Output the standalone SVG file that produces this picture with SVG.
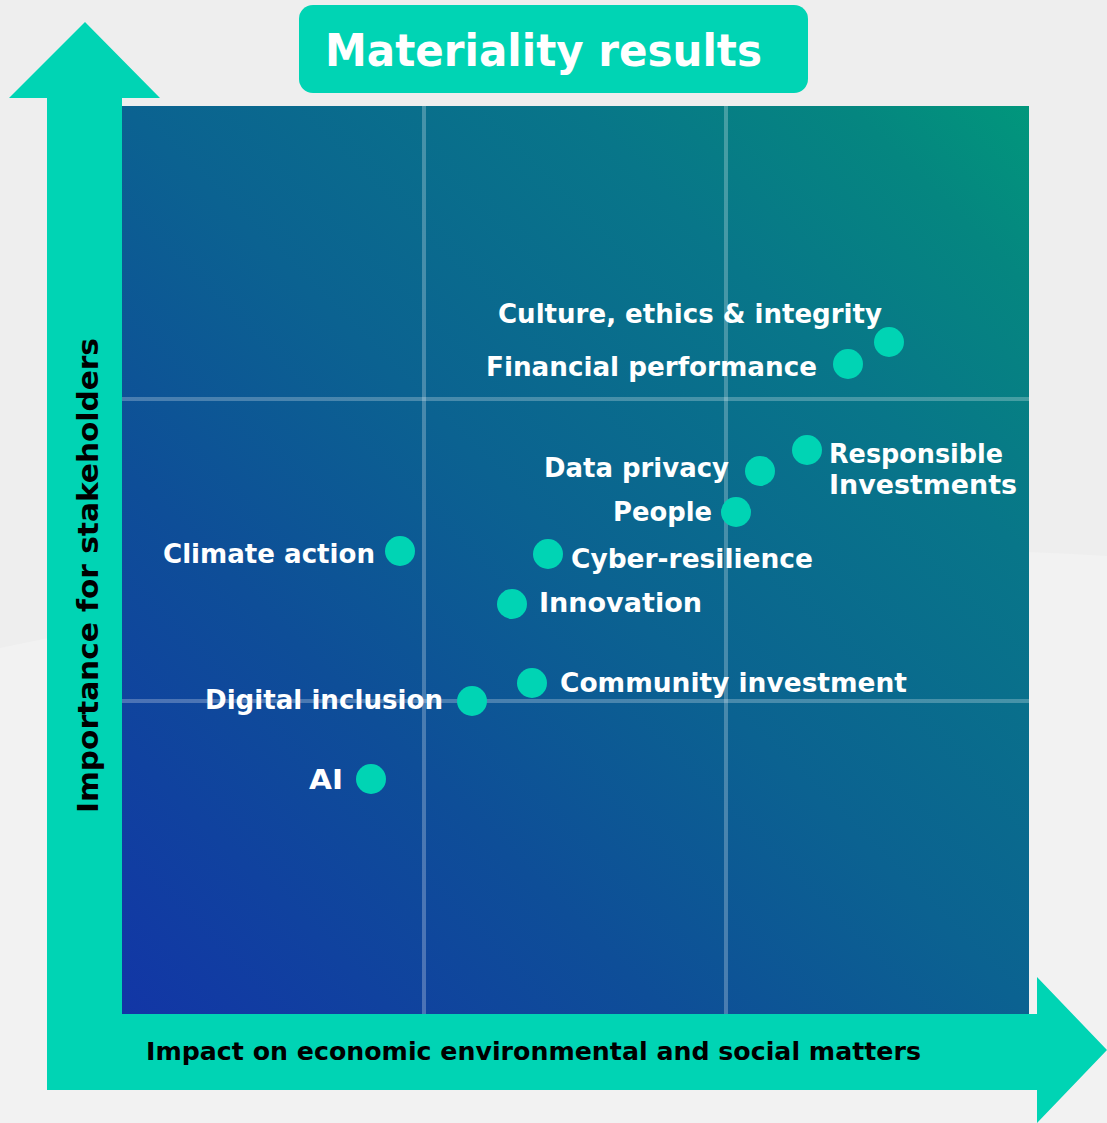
<svg xmlns="http://www.w3.org/2000/svg" width="1107" height="1123" viewBox="0 0 1107 1123">
  <defs>
    <linearGradient id="plotGrad" gradientUnits="userSpaceOnUse" x1="122" y1="1014" x2="1029" y2="106">
      <stop offset="0" stop-color="#1236a6"/>
      <stop offset="0.3" stop-color="#0e4e98"/>
      <stop offset="0.5" stop-color="#0b6291"/>
      <stop offset="0.75" stop-color="#087689"/>
      <stop offset="0.9" stop-color="#058680"/>
      <stop offset="1" stop-color="#01977c"/>
    </linearGradient>
    <style>
      .teal { fill: #00d4b4; }
      .grid { stroke: #ffffff; stroke-opacity: 0.25; stroke-width: 4; fill: none; }
      .dot { fill: #00d4b4; }
      .lbl { font-family: "DejaVu Sans", Verdana, sans-serif; font-weight: bold; font-size: 26px; fill: #ffffff; }
      .axis { font-family: "DejaVu Sans", Verdana, sans-serif; font-weight: bold; fill: #000000; }
      .title { font-family: "DejaVu Sans", Verdana, sans-serif; font-weight: bold; font-size: 44px; fill: #ffffff; }
    </style>
  </defs>

  <!-- background -->
  <rect x="0" y="0" width="1107" height="1123" fill="#eeeeee"/>
  <path d="M0,648 Q594,523 1107,556 L1107,1123 L0,1123 Z" fill="#f2f2f2"/>

  <!-- axes -->
  <g id="axis-y">
    <polygon class="teal" points="85,22 160,98 122,98 122,1090 47,1090 47,98 9,98"/>
    <text class="axis" font-size="28" transform="translate(98,813) rotate(-90)" x="0" y="0" textLength="475" lengthAdjust="spacingAndGlyphs">Importance for stakeholders</text>
  </g>
  <g id="axis-x">
    <polygon class="teal" points="47,1014 1037,1014 1037,977 1107,1050 1037,1123 1037,1090 47,1090"/>
    <text class="axis" font-size="25.5" x="146" y="1060" textLength="775" lengthAdjust="spacingAndGlyphs">Impact on economic environmental and social matters</text>
  </g>

  <!-- plot area -->
  <g id="plot">
    <rect x="122" y="106" width="907" height="908" fill="url(#plotGrad)"/>
    <line class="grid" x1="424" y1="106" x2="424" y2="1014"/>
    <line class="grid" x1="726" y1="106" x2="726" y2="1014"/>
    <line class="grid" x1="122" y1="399" x2="1029" y2="399"/>
    <line class="grid" x1="122" y1="701" x2="1029" y2="701"/>
  </g>

  <!-- title -->
  <g id="title">
    <rect class="teal" x="299" y="5" width="509" height="88" rx="14" ry="14"/>
    <text class="title" x="325" y="66" textLength="437" lengthAdjust="spacingAndGlyphs">Materiality results</text>
  </g>

  <!-- nodes -->
  <g id="node-culture">
    <circle class="dot" cx="889" cy="342" r="15"/>
    <text class="lbl" x="498" y="323" textLength="384" lengthAdjust="spacingAndGlyphs">Culture, ethics &amp; integrity</text>
  </g>
  <g id="node-financial">
    <circle class="dot" cx="848" cy="364" r="15"/>
    <text class="lbl" x="486" y="376" textLength="331" lengthAdjust="spacingAndGlyphs">Financial performance</text>
  </g>
  <g id="node-responsible">
    <circle class="dot" cx="807" cy="450" r="15"/>
    <text class="lbl" x="829" y="463" textLength="174" lengthAdjust="spacingAndGlyphs">Responsible</text>
    <text class="lbl" x="829" y="494" textLength="188" lengthAdjust="spacingAndGlyphs">Investments</text>
  </g>
  <g id="node-data-privacy">
    <circle class="dot" cx="760" cy="471" r="15"/>
    <text class="lbl" x="544" y="477" textLength="185" lengthAdjust="spacingAndGlyphs">Data privacy</text>
  </g>
  <g id="node-people">
    <circle class="dot" cx="736" cy="512" r="15"/>
    <text class="lbl" x="613" y="521" textLength="99" lengthAdjust="spacingAndGlyphs">People</text>
  </g>
  <g id="node-cyber">
    <circle class="dot" cx="548" cy="554" r="15"/>
    <text class="lbl" x="571" y="568" textLength="242" lengthAdjust="spacingAndGlyphs">Cyber-resilience</text>
  </g>
  <g id="node-innovation">
    <circle class="dot" cx="512" cy="604" r="15"/>
    <text class="lbl" x="539" y="612" textLength="163" lengthAdjust="spacingAndGlyphs">Innovation</text>
  </g>
  <g id="node-climate">
    <circle class="dot" cx="400" cy="551" r="15"/>
    <text class="lbl" x="163" y="563" textLength="212" lengthAdjust="spacingAndGlyphs">Climate action</text>
  </g>
  <g id="node-community">
    <circle class="dot" cx="532" cy="683" r="15"/>
    <text class="lbl" x="560" y="692" textLength="347" lengthAdjust="spacingAndGlyphs">Community investment</text>
  </g>
  <g id="node-digital">
    <circle class="dot" cx="472" cy="701" r="15"/>
    <text class="lbl" x="205" y="709" textLength="238" lengthAdjust="spacingAndGlyphs">Digital inclusion</text>
  </g>
  <g id="node-ai">
    <circle class="dot" cx="371" cy="779" r="15"/>
    <text class="lbl" x="309" y="789" textLength="34" lengthAdjust="spacingAndGlyphs">AI</text>
  </g>

  <g id="connectors"></g>
</svg>
